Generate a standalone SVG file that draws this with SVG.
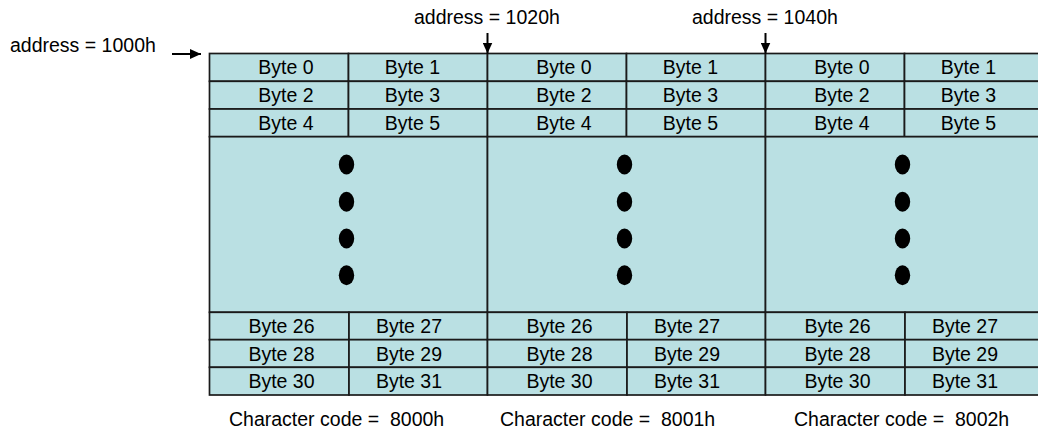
<svg xmlns="http://www.w3.org/2000/svg" width="1038" height="435" viewBox="0 0 1038 435">
<style>
.c{fill:#BAE0E3;stroke:#1a1a1a;stroke-width:1.7}
.t{font-family:"Liberation Sans",Arial,sans-serif;font-size:19.5px;fill:#000}
.m{text-anchor:middle}
.d{fill:#000}
.a{stroke:#000;stroke-width:2;fill:none}
</style>
<defs>
<marker id="ah" viewBox="0 0 11 10" refX="11" refY="5" markerWidth="11" markerHeight="10" markerUnits="userSpaceOnUse" orient="auto">
<path d="M0,0 L11,5 L0,10 z" fill="#000"/>
</marker>
<g id="blk">
<rect class="c" x="0" y="0" width="139" height="27.8"/>
<rect class="c" x="139" y="0" width="139" height="27.8"/>
<rect class="c" x="0" y="27.8" width="139" height="27.7"/>
<rect class="c" x="139" y="27.8" width="139" height="27.7"/>
<rect class="c" x="0" y="55.5" width="139" height="27.7"/>
<rect class="c" x="139" y="55.5" width="139" height="27.7"/>
<rect class="c" x="0" y="83.2" width="278" height="175.6"/>
<rect class="c" x="0" y="258.8" width="139.5" height="27.4"/>
<rect class="c" x="139.5" y="258.8" width="138.5" height="27.4"/>
<rect class="c" x="0" y="286.2" width="139.5" height="27.6"/>
<rect class="c" x="139.5" y="286.2" width="138.5" height="27.6"/>
<rect class="c" x="0" y="313.8" width="139.5" height="27.7"/>
<rect class="c" x="139.5" y="313.8" width="138.5" height="27.7"/>
<ellipse class="d" cx="137" cy="111" rx="7.7" ry="10"/>
<ellipse class="d" cx="137" cy="148.3" rx="7.7" ry="10"/>
<ellipse class="d" cx="137" cy="185" rx="7.7" ry="10"/>
<ellipse class="d" cx="137" cy="221.7" rx="7.7" ry="10"/>
<text class="t m" x="76.5" y="20.8">Byte 0</text>
<text class="t m" x="203" y="20.8">Byte 1</text>
<text class="t m" x="76.5" y="48.5">Byte 2</text>
<text class="t m" x="203" y="48.5">Byte 3</text>
<text class="t m" x="76.5" y="76.2">Byte 4</text>
<text class="t m" x="203" y="76.2">Byte 5</text>
<text class="t m" x="72" y="279.8">Byte 26</text>
<text class="t m" x="199.5" y="279.8">Byte 27</text>
<text class="t m" x="72" y="307.3">Byte 28</text>
<text class="t m" x="199.5" y="307.3">Byte 29</text>
<text class="t m" x="72" y="334.8">Byte 30</text>
<text class="t m" x="199.5" y="334.8">Byte 31</text>
</g>
</defs>
<g id="char8000"><use href="#blk" x="209.5" y="53.5"/></g>
<g id="char8001"><use href="#blk" x="487.5" y="53.5"/></g>
<g id="char8002"><use href="#blk" x="765.5" y="53.5"/></g>
<g id="connectors">
<line class="a" x1="172" y1="54" x2="201" y2="54" marker-end="url(#ah)"/>
<line class="a" x1="487.5" y1="33" x2="487.5" y2="53.5" marker-end="url(#ah)"/>
<line class="a" x1="765.5" y1="33" x2="765.5" y2="53.5" marker-end="url(#ah)"/>
</g>
<g id="labels">
<text class="t" x="10" y="52">address = 1000h</text>
<text class="t" x="414" y="24">address = 1020h</text>
<text class="t" x="692" y="24">address = 1040h</text>
<text class="t" x="229" y="426" xml:space="preserve">Character code =  8000h</text>
<text class="t" x="500" y="426" xml:space="preserve">Character code =  8001h</text>
<text class="t" x="794" y="426" xml:space="preserve">Character code =  8002h</text>
</g>
</svg>
